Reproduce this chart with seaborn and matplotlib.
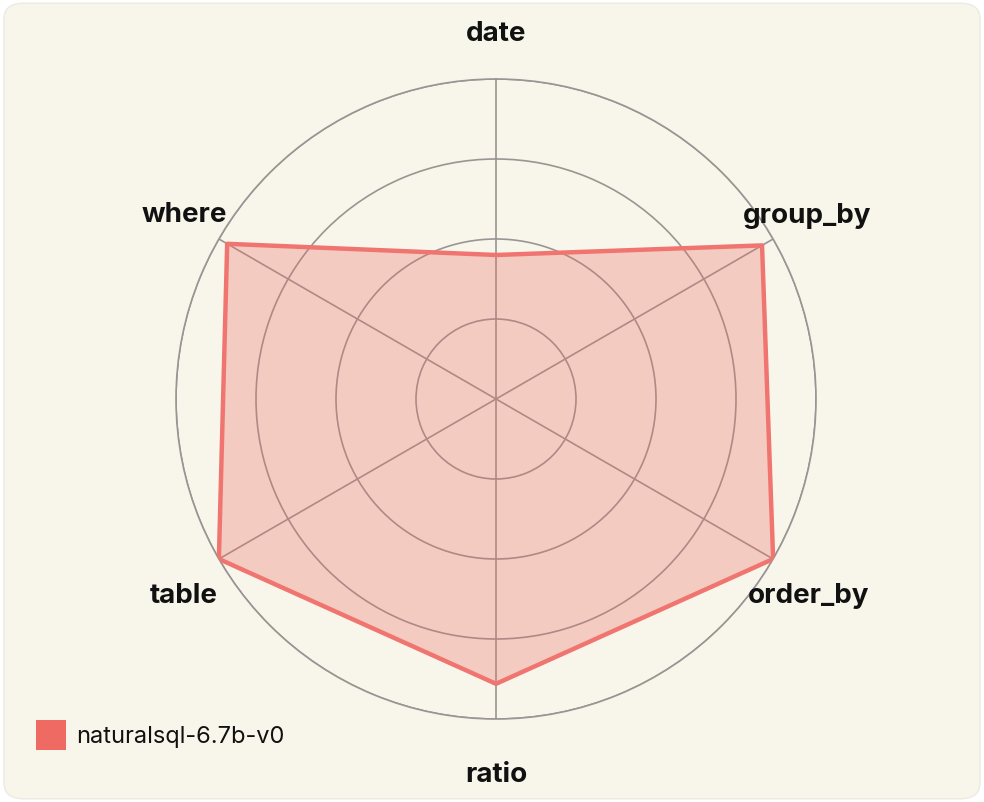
import numpy as np
import pandas as pd
import seaborn as sns
import matplotlib.pyplot as plt
from matplotlib.patches import FancyBboxPatch

# Chart data
categories = ['date', 'group_by', 'order_by', 'ratio', 'table', 'where']
scores = [0.45, 0.96, 1.0, 0.89, 1.0, 0.97]
model_name = 'naturalsql-6.7b-v0'

sns.set_theme(style='white')
plt.rcParams['font.family'] = ['Inter', 'DejaVu Sans']

bg = '#F8F6EB'
red = '#EE6A63'
grid_col = '#9A9494'

fig = plt.figure(figsize=(9.84, 8.02), dpi=100)
fig.patch.set_facecolor('white')

# rounded card background
card = FancyBboxPatch((0.004, 0.004), 0.992, 0.992, boxstyle='round,pad=0,rounding_size=0.02',
                      transform=fig.transFigure, facecolor=bg, edgecolor='#ECEAE2', linewidth=1, zorder=-10)
fig.patches.append(card)

ax = fig.add_axes([176 / 984, 83 / 802, 640 / 984, 640 / 802], projection='polar')
ax.set_facecolor('none')
ax.set_theta_offset(np.pi / 2)
ax.set_theta_direction(-1)

angles = np.linspace(0, 2 * np.pi, len(categories), endpoint=False)
df = pd.DataFrame({'angle': list(angles) + [2 * np.pi], 'score': scores + [scores[0]]})

# grid rings and spokes
ax.set_ylim(0, 1)
ax.set_yticks([0.25, 0.5, 0.75, 1.0])
ax.set_yticklabels([])
ax.set_xticks(angles)
ax.set_xticklabels([])
ax.grid(True, color=grid_col, linewidth=1.2)
ax.spines['polar'].set_color(grid_col)
ax.spines['polar'].set_linewidth(1.2)

ax.fill(df['angle'], df['score'], color=red, alpha=0.3, linewidth=0, zorder=3)
sns.lineplot(data=df, x='angle', y='score', ax=ax, color='#F07570', linewidth=3.2,
             sort=False, estimator=None, zorder=4)
ax.set_xlabel('')
ax.set_ylabel('')

# category labels, offset in pixels from the end of each spoke
label_offsets = [(0, 45), (34, 23), (35, -37), (0, -56), (-35, -37), (-35, 24)]
for a, lab, off in zip(angles, categories, label_offsets):
    ax.annotate(lab, xy=(a, 1.0), xytext=off, textcoords='offset pixels',
                ha='center', va='center', fontsize=20, fontweight='bold',
                color='#111111', annotation_clip=False)

# legend
fig.patches.append(plt.Rectangle((36 / 984, 1 - 750 / 802), 30 / 984, 30 / 802,
                                 transform=fig.transFigure, facecolor=red, edgecolor='none'))
fig.text(76 / 984, 1 - 737 / 802, model_name, ha='left', va='center', fontsize=17, color='#111111')

fig.savefig('out.png', dpi=100, facecolor=fig.get_facecolor())
